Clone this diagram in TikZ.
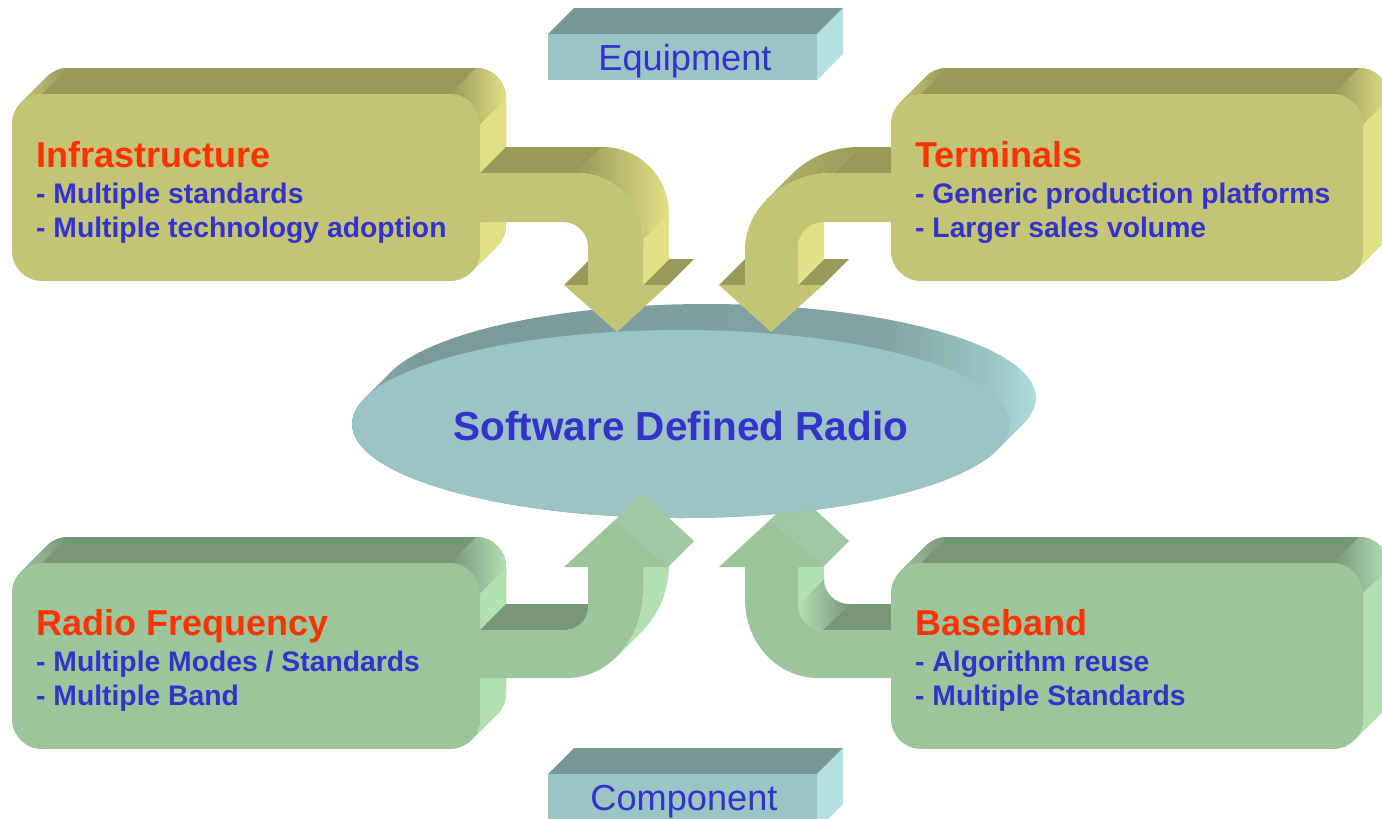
\documentclass[tikz,border=0pt]{standalone}
\usepackage{fontspec}
\setmainfont{Liberation Sans}
\definecolor{yfront}{RGB}{196,196,118}
\definecolor{ydark}{RGB}{153,153,89}
\definecolor{ylight}{RGB}{224,224,133}
\definecolor{ymid}{RGB}{180,180,108}
\definecolor{gfront}{RGB}{156,197,156}
\definecolor{gdark}{RGB}{120,150,120}
\definecolor{glight}{RGB}{179,224,179}
\definecolor{gslant}{RGB}{161,201,161}
\definecolor{tfront}{RGB}{155,196,196}
\definecolor{tdark}{RGB}{120,151,151}
\definecolor{tlight}{RGB}{179,224,224}
\definecolor{rimL}{RGB}{140,176,176}
\definecolor{rimD}{RGB}{122,154,154}
\definecolor{rimM}{RGB}{130,164,164}
\definecolor{txtred}{RGB}{255,51,0}
\definecolor{txtblue}{RGB}{51,51,204}
\pgfdeclarehorizontalshading{rimshade}{100bp}{color(0bp)=(rimL); color(25bp)=(rimL); color(31bp)=(rimD); color(64bp)=(rimM); color(71bp)=(tfront); color(75bp)=(tlight); color(100bp)=(tlight)}
% rounded 3D box: x1 y1 x2 y2 front dark light
\newcommand\rbox[7]{%
  \fill[#6, rounded corners=30pt] \foreach \i in {1,...,26}{ ({#1+\i},{#2-\i}) rectangle ({#3+\i},{#4-\i}) };
  \shade[left color=#7!60!#6, right color=#6] ({#1+30-21.2},{#2+30-21.2}) arc[start angle=225,end angle=270,radius=30] -- ++(26,-26) arc[start angle=270,end angle=225,radius=30] -- cycle;
  \fill[#7] (#3,{#2+30}) -- (#3,{#4-30}) arc[start angle=0,end angle=45,radius=30] -- ++(26,-26) arc[start angle=45,end angle=0,radius=30] -- ({#3+26},{#2+4}) -- cycle;
  \shade[left color=#6, right color=#7] ({#3-30},#2) arc[start angle=270,end angle=360,radius=30] -- ++(26,-26) arc[start angle=360,end angle=270,radius=30] -- cycle;
  \fill[#5, rounded corners=30pt] (#1,#2) rectangle (#3,#4);
}
\tikzset{
  ttl/.style={anchor=base west, inner sep=0pt, text=txtred, font=\fontsize{36}{40}\selectfont\bfseries},
  bul/.style={anchor=base west, inner sep=0pt, text=txtblue, font=\fontsize{28.3}{32}\selectfont\bfseries},
  sdrtxt/.style={anchor=base, inner sep=0pt, text=txtblue, font=\fontsize{40.5}{45}\selectfont\bfseries},
  lbl/.style={anchor=base, inner sep=0pt, text=txtblue, font=\fontsize{36.2}{40}\selectfont},
}
\begin{document}
\begin{tikzpicture}[x=1pt,y=-1pt]
\useasboundingbox (0,0) rectangle (1382,819);
\clip (0,0) rectangle (1382,819);

% ---------- bottom-right arrow (behind ellipse) ----------
\fill[glight] (798,567) -- (798,605) -- (824,579) -- (824,541) -- cycle;
\shade[left color=glight, right color=gdark] (798,605) arc[start angle=180,end angle=90,radius=25] -- ++(26,-26) arc[start angle=90,end angle=180,radius=25] -- cycle;
\fill[gdark] (823,630) -- (895,630) -- (921,604) -- (849,604) -- cycle;
\fill[gslant] (771,519) -- (823,567) -- (849,541) -- (797,493) -- cycle;
\fill[gfront] (895,630) -- (823,630) arc[start angle=90,end angle=180,radius=25] -- (798,567) -- (823,567) -- (771,519) -- (719,567) -- (745,567) -- (745,600) arc[start angle=180,end angle=90,x radius=73,y radius=78] -- (895,678) -- cycle;
\rbox{891}{563}{1363}{749}{gfront}{gdark}{glight}

% ---------- central ellipse ----------
\begin{scope}
  \clip \foreach \i in {0,...,26}{ ({681+\i},{424-\i}) ellipse[x radius=329,y radius=94] };
  \shade[shading=rimshade] (340,290) rectangle (1045,525);
\end{scope}
\fill[tfront] (681,424) ellipse[x radius=329,y radius=94];

% ---------- top-left box and arrow ----------
\rbox{12}{94}{480}{281}{yfront}{ydark}{ylight}
\fill[ydark] (480,173) -- (577,173) -- (603,147) -- (506,147) -- cycle;
\fill[ydark] (564,285) -- (588,285) -- (614,259) -- (590,259) -- cycle;
\fill[ydark] (643,285) -- (668,285) -- (694,259) -- (669,259) -- cycle;
\fill[ylight] (643,240) -- (643,285) -- (669,259) -- (669,214) -- cycle;
\shade[left color=ydark, right color=ylight] (577,173) arc[start angle=270,end angle=360,x radius=66,y radius=67] -- ++(26,-26) arc[start angle=360,end angle=270,x radius=66,y radius=67] -- cycle;
\fill[yfront] (478,173) -- (577,173) arc[start angle=270,end angle=360,x radius=66,y radius=67] -- (643,285) -- (668,285) -- (617,332) -- (564,285) -- (588,285) -- (588,247) arc[start angle=0,end angle=-90,radius=25] -- (478,222) -- cycle;

% ---------- top-right arrow and box ----------
\fill[ydark] (833,173) -- (895,173) -- (921,147) -- (859,147) -- cycle;
\shade[left color=ymid, right color=ydark] (833,173) arc[start angle=270,end angle=221,x radius=88,y radius=77] -- ++(26,-26) arc[start angle=221,end angle=270,x radius=88,y radius=77] -- cycle;
\fill[ydark] (719,285) -- (745,285) -- (771,259) -- (745,259) -- cycle;
\fill[ydark] (798,285) -- (823,285) -- (849,259) -- (824,259) -- cycle;
\fill[ylight] (798,285) -- (798,247) arc[start angle=180,end angle=225,radius=25] -- ++(26,-26) arc[start angle=225,end angle=180,radius=25] -- (824,259) -- cycle;
\fill[yfront] (895,173) -- (833,173) arc[start angle=270,end angle=180,x radius=88,y radius=77] -- (745,285) -- (719,285) -- (771,332) -- (823,285) -- (798,285) -- (798,247) arc[start angle=180,end angle=270,radius=25] -- (895,222) -- cycle;
\rbox{891}{94}{1363}{281}{yfront}{ydark}{ylight}

% ---------- bottom-left box and arrow ----------
\rbox{12}{563}{480}{749}{gfront}{gdark}{glight}
\fill[gdark] (480,630) -- (565,630) arc[start angle=90,end angle=45,radius=23] -- ++(26,-26) arc[start angle=45,end angle=90,radius=23] -- (506,604) -- cycle;
\fill[glight] (643,567) -- (643,590) arc[start angle=0,end angle=49,x radius=76,y radius=88] -- ++(26,-26) arc[start angle=49,end angle=0,x radius=76,y radius=88] -- (669,541) -- cycle;
\fill[gslant] (616,519) -- (668,567) -- (694,541) -- (642,493) -- cycle;
\fill[gfront] (478,630) -- (565,630) arc[start angle=90,end angle=0,radius=23] -- (588,567) -- (564,567) -- (616,519) -- (668,567) -- (643,567) -- (643,590) arc[start angle=0,end angle=90,x radius=76,y radius=88] -- (478,678) -- cycle;

% ---------- Equipment / Component blocks ----------
\fill[tdark] (548,34) -- (817,34) -- (843,8) -- (574,8) -- cycle;
\fill[tlight] (817,34) -- (817,80) -- (843,54) -- (843,8) -- cycle;
\fill[tfront] (548,34) rectangle (817,80);
\fill[tdark] (548,774) -- (817,774) -- (843,748) -- (574,748) -- cycle;
\fill[tlight] (817,774) -- (817,830) -- (843,804) -- (843,748) -- cycle;
\fill[tfront] (548,774) rectangle (817,830);

% ---------- texts ----------
\node[ttl] (infT) at (36,167) {Infrastructure};
\node[bul] (infA) at (36,203) {- Multiple standards};
\node[bul] (infB) at (36,237) {- Multiple technology adoption};
\node[ttl] (terT) at (915,167) {Terminals};
\node[bul] (terA) at (915,203) {- Generic production platforms};
\node[bul] (terB) at (915,237) {- Larger sales volume};
\node[ttl] (rfT) at (36,635) {Radio Frequency};
\node[bul] (rfA) at (36,671) {- Multiple Modes / Standards};
\node[bul] (rfB) at (36,705) {- Multiple Band};
\node[ttl] (bbT) at (915,635) {Baseband};
\node[bul] (bbA) at (915,671) {- Algorithm reuse};
\node[bul] (bbB) at (915,705) {- Multiple Standards};
\node[sdrtxt] (sdr) at (681,440) {Software Defined Radio};
\node[lbl] (equip) at (685,70) {Equipment};
\node[lbl] (comp) at (684,810) {Component};
\end{tikzpicture}
\end{document}
